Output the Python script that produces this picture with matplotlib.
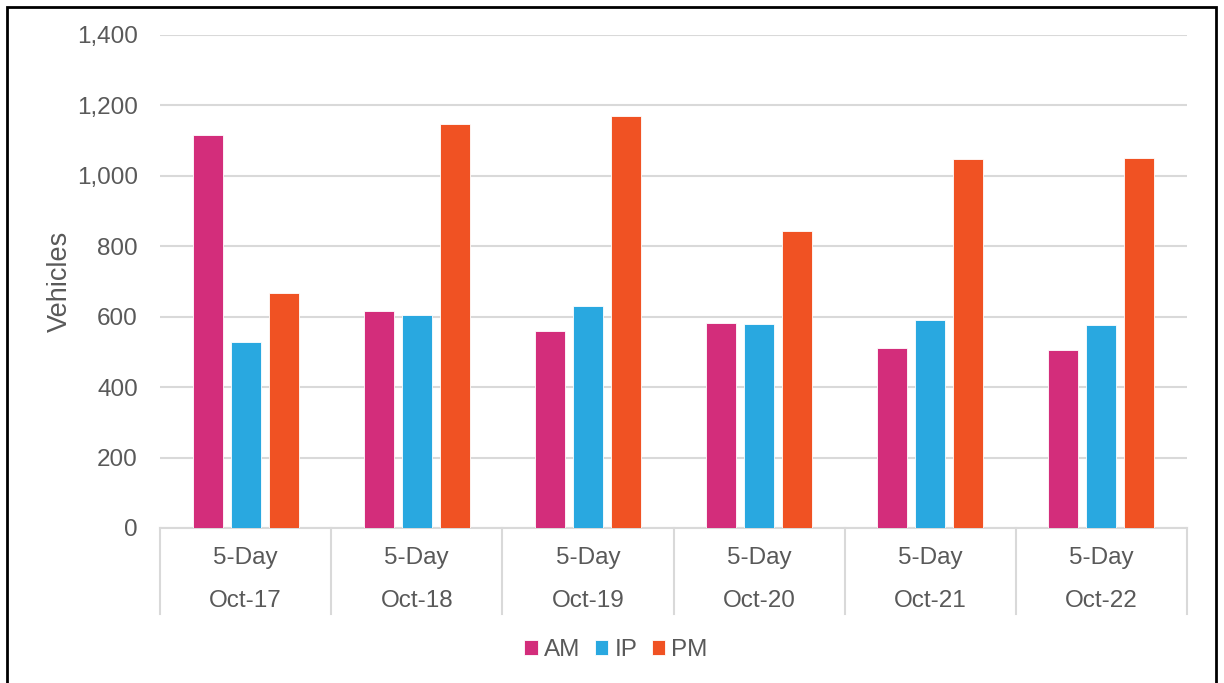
import matplotlib
matplotlib.use("Agg")
import matplotlib.pyplot as plt
import matplotlib.transforms as mtransforms
from matplotlib.patches import Rectangle
from matplotlib.ticker import FuncFormatter, MultipleLocator
import numpy as np

plt.rcParams['font.family'] = ['Liberation Sans', 'DejaVu Sans']

periods = ["Oct-17", "Oct-18", "Oct-19", "Oct-20", "Oct-21", "Oct-22"]
group_label = "5-Day"
series_names = ["AM", "IP", "PM"]
am_values = [1116, 616, 559, 581, 511, 505]
ip_values = [527, 605, 631, 578, 590, 576]
pm_values = [667, 1146, 1170, 842, 1048, 1050]
series_values = [am_values, ip_values, pm_values]
series_colors = ["#D32D7B", "#29A8E0", "#F05223"]

text_color = "#595959"
grid_color = "#D9D9D9"
fs = 17.5

W, H = 1224, 683
fig = plt.figure(figsize=(W / 100, H / 100), dpi=100)
ax = fig.add_axes([160 / W, (H - 528) / H, (1187 - 160) / W, (528 - 35) / H])

x = np.arange(len(periods))
bar_w = 0.175
step = 0.222
for i, (name, vals, col) in enumerate(zip(series_names, series_values, series_colors)):
    ax.bar(x + (i - 1) * step, vals, width=bar_w, color=col, label=name,
           edgecolor="white", linewidth=0.6, zorder=3)

ax.set_xlim(-0.5, len(periods) - 0.5)
ax.set_ylim(0, 1400)
ax.yaxis.set_major_locator(MultipleLocator(200))
ax.yaxis.set_major_formatter(FuncFormatter(lambda v, p: f"{int(v):,}"))
ax.grid(axis="y", color=grid_color, linewidth=1.5, zorder=0)
ax.set_axisbelow(True)
for side in ["top", "right", "left"]:
    ax.spines[side].set_visible(False)
ax.spines["bottom"].set_color(grid_color)
ax.spines["bottom"].set_linewidth(1.5)
ax.tick_params(axis="y", length=0, labelsize=fs, labelcolor=text_color, pad=16)
ax.tick_params(axis="x", length=0, labelbottom=False)
ax.set_ylabel("Vehicles", fontsize=19.5, color=text_color, labelpad=3)

# Two-level category axis: "5-Day" above the period label, boxed by separators
trans = mtransforms.blended_transform_factory(ax.transData, ax.transAxes)
axis_h = 528 - 35
row1 = -30 / axis_h
row2 = -73 / axis_h
sep_bottom = -86 / axis_h
for xi, lab in zip(x, periods):
    ax.text(xi, row1, group_label, transform=trans, ha="center", va="center",
            fontsize=fs, color=text_color)
    ax.text(xi, row2, lab, transform=trans, ha="center", va="center",
            fontsize=fs, color=text_color)
for b in np.arange(len(periods) + 1) - 0.5:
    ax.plot([b, b], [0, sep_bottom], transform=trans, color=grid_color,
            linewidth=1.5, clip_on=False)

fig.legend(loc="center", bbox_to_anchor=(616 / W, (H - 650) / H), ncol=3,
           frameon=False, fontsize=fs, labelcolor=text_color,
           handlelength=0.55, handleheight=0.55, handletextpad=0.25,
           columnspacing=0.6)

# Outer frame around the chart
fig.patches.append(Rectangle((7 / W, -0.05), (1216 - 7) / W, (H - 7) / H + 0.05,
                             transform=fig.transFigure, fill=False,
                             edgecolor="black", linewidth=2, clip_on=False))

fig.savefig("out.png", dpi=100, facecolor="white")
